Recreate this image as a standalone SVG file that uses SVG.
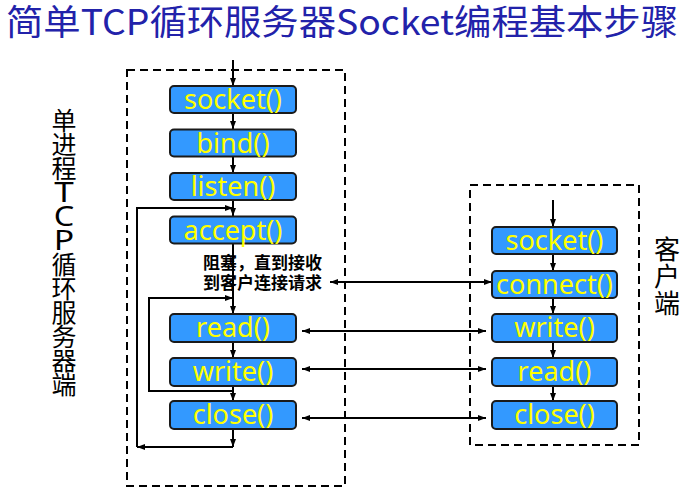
<svg xmlns="http://www.w3.org/2000/svg" width="690" height="491" viewBox="0 0 690 491">
<defs>
<marker id="ah" viewBox="0 0 8 6" markerUnits="userSpaceOnUse" markerWidth="8" markerHeight="6" refX="8" refY="3" orient="auto-start-reverse">
<path d="M0,0 L8,3 L0,6 z" fill="#000"/>
</marker>
<style>
.box{fill:#3399FF;stroke:#1a1a1a;stroke-width:2}
.bt{font-family:"Noto Sans","Noto Sans CJK SC",sans-serif;font-size:27px;fill:#FFFF00;text-anchor:middle}
.ln{fill:none;stroke:#000;stroke-width:2}
.dash{fill:none;stroke:#000;stroke-width:2;stroke-dasharray:8 5}
.vl{font-family:"Noto Sans CJK SC",sans-serif;font-size:25px;fill:#000;text-anchor:middle}
.vla{font-family:"Noto Sans","Noto Sans CJK SC",sans-serif;font-size:27px;fill:#000;text-anchor:middle}
.note{font-family:"Noto Sans CJK SC",sans-serif;font-size:17px;font-weight:bold;fill:#000}
</style>
</defs>
<rect width="690" height="491" fill="#fff"/>
<text x="6" y="35" font-family="'Noto Sans CJK SC',sans-serif" font-size="35" fill="#2222AA" textLength="672" lengthAdjust="spacingAndGlyphs">简单TCP循环服务器Socket编程基本步骤</text>

<g id="server-frame"><rect class="dash" x="127" y="70" width="218" height="416"/></g>
<g id="client-frame"><rect class="dash" x="470" y="185" width="169" height="260"/></g>

<g id="server-label">
<text class="vl"><tspan x="64" y="130">单</tspan><tspan x="64" y="154">进</tspan><tspan x="64" y="178">程</tspan></text>
<text class="vla" transform="translate(64,202) scale(1.3,1)">T</text>
<text class="vla" transform="translate(64,226) scale(1.2,1)">C</text>
<text class="vla" transform="translate(64,250) scale(1.25,1)">P</text>
<text class="vl"><tspan x="64" y="274">循</tspan><tspan x="64" y="298">环</tspan><tspan x="64" y="322">服</tspan><tspan x="64" y="346">务</tspan><tspan x="64" y="370">器</tspan><tspan x="64" y="394">端</tspan></text>
</g>
<g id="client-label"><text class="vl" style="font-size:26px">
<tspan x="667" y="259">客</tspan><tspan x="667" y="286">户</tspan><tspan x="667" y="313">端</tspan>
</text></g>

<g id="connectors">
<path class="ln" d="M233,60 V86" marker-end="url(#ah)"/>
<path class="ln" d="M233,113 V129" marker-end="url(#ah)"/>
<path class="ln" d="M233,157 V173" marker-end="url(#ah)"/>
<path class="ln" d="M233,201 V216" marker-end="url(#ah)"/>
<path class="ln" d="M137,447 V208 H233" marker-end="url(#ah)"/>
<path class="ln" d="M233,244 V314" marker-end="url(#ah)"/>
<path class="ln" d="M233,391 H149 V298 H233" marker-end="url(#ah)"/>
<path class="ln" d="M233,342 V358" marker-end="url(#ah)"/>
<path class="ln" d="M233,386 V401" marker-end="url(#ah)"/>
<path class="ln" d="M233,429 V447" marker-end="url(#ah)"/>
<path class="ln" d="M233,447 H137" marker-end="url(#ah)"/>
<path class="ln" d="M553,200 V227" marker-end="url(#ah)"/>
<path class="ln" d="M553,254 V271" marker-end="url(#ah)"/>
<path class="ln" d="M553,298 V314" marker-end="url(#ah)"/>
<path class="ln" d="M553,342 V358" marker-end="url(#ah)"/>
<path class="ln" d="M553,386 V401" marker-end="url(#ah)"/>
<path class="ln" d="M330,282 H492" marker-start="url(#ah)" marker-end="url(#ah)"/>
<path class="ln" d="M302,331 H486" marker-start="url(#ah)" marker-end="url(#ah)"/>
<path class="ln" d="M302,369 H486" marker-start="url(#ah)" marker-end="url(#ah)"/>
<path class="ln" d="M302,418 H486" marker-start="url(#ah)" marker-end="url(#ah)"/>
</g>

<g id="note"><text class="note"><tspan x="203" y="269">阻塞，直到接收</tspan><tspan x="203" y="289">到客户连接请求</tspan></text></g>

<g id="s-socket"><rect class="box" x="170" y="86" width="126" height="27" rx="4"/><text class="bt" x="233" y="109">socket()</text></g>
<g id="s-bind"><rect class="box" x="170" y="129.5" width="126" height="27" rx="4"/><text class="bt" x="233" y="152.5">bind()</text></g>
<g id="s-listen"><rect class="box" x="170" y="173" width="126" height="27" rx="4"/><text class="bt" x="233" y="196">listen()</text></g>
<g id="s-accept"><rect class="box" x="170" y="216.5" width="126" height="27" rx="4"/><text class="bt" x="233" y="239.5">accept()</text></g>
<g id="s-read"><rect class="box" x="170" y="314" width="126" height="28" rx="4"/><text class="bt" x="233" y="337">read()</text></g>
<g id="s-write"><rect class="box" x="170" y="358" width="126" height="28" rx="4"/><text class="bt" x="233" y="381">write()</text></g>
<g id="s-close"><rect class="box" x="170" y="401" width="126" height="28" rx="4"/><text class="bt" x="233" y="424">close()</text></g>

<g id="c-socket"><rect class="box" x="492" y="227" width="125" height="27" rx="4"/><text class="bt" x="554.5" y="250">socket()</text></g>
<g id="c-connect"><rect class="box" x="492" y="271" width="125" height="27" rx="4"/><text class="bt" x="554.5" y="294">connect()</text></g>
<g id="c-write"><rect class="box" x="492" y="314" width="125" height="28" rx="4"/><text class="bt" x="554.5" y="337">write()</text></g>
<g id="c-read"><rect class="box" x="492" y="358" width="125" height="28" rx="4"/><text class="bt" x="554.5" y="381">read()</text></g>
<g id="c-close"><rect class="box" x="492" y="401" width="125" height="28" rx="4"/><text class="bt" x="554.5" y="424">close()</text></g>
</svg>
